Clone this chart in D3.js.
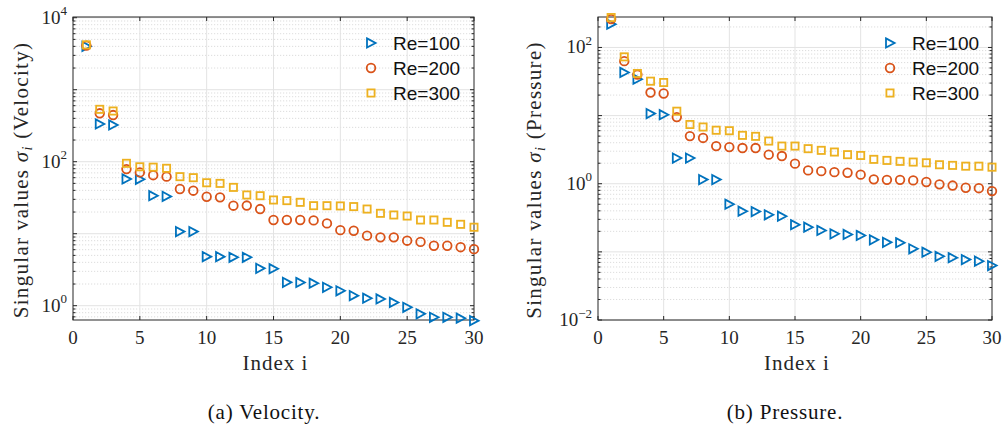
<!DOCTYPE html>
<html><head><meta charset="utf-8">
<script src="https://cdn.jsdelivr.net/npm/d3@7"></script>
<style>
html,body{margin:0;padding:0;background:#fff;}
svg{display:block;}
</style></head>
<body>
<svg id="c" width="1006" height="431"></svg>
<script>
const idx = d3.range(1, 31);
const seriesNames = ["Re=100", "Re=200", "Re=300"];
// Velocity singular values
const velRe100 = [4000,334,324,57.5,57,33.7,33,10.7,10.7,4.8,4.8,4.7,4.7,3.3,3.26,2.11,2.1,2.05,1.8,1.61,1.38,1.27,1.24,1.11,0.95,0.77,0.69,0.69,0.67,0.62];
const velRe200 = [4100,470,445,79,71,65,62,41.8,39.6,32.6,32,24.5,24.6,22,15.5,15.5,15.5,15.3,13.9,11.2,11.0,9.4,8.9,8.9,8.0,7.7,6.8,6.8,6.5,6.1];
const velRe300 = [4200,534,506,95,85,84,81,62,60,51,50,44,34.5,33.7,29.4,28.8,27.3,24.5,24.5,24.3,23.8,22,19.2,18.2,17.6,15.5,15.5,14.4,13.5,12.3];
// Pressure singular values
const preRe100 = [220,43,34.2,10.7,10.3,2.38,2.38,1.15,1.15,0.50,0.395,0.39,0.35,0.334,0.25,0.23,0.206,0.184,0.18,0.174,0.15,0.138,0.136,0.111,0.0987,0.086,0.082,0.077,0.073,0.063];
const preRe200 = [261,63,40,21.8,21.1,9.5,5.0,4.7,3.57,3.45,3.34,3.34,2.67,2.55,1.97,1.57,1.53,1.48,1.45,1.36,1.16,1.14,1.14,1.12,1.06,0.98,0.94,0.873,0.86,0.78];
const preRe300 = [275,72.8,41.5,32,30.6,11.6,7.4,6.8,6.1,6.0,5.13,4.96,4.23,3.57,3.57,3.27,3.09,2.92,2.67,2.6,2.28,2.2,2.13,2.08,2.03,1.9,1.86,1.81,1.81,1.75];
const xTicks = [0,5,10,15,20,25,30];
const yTicksVel = [0,2,4];   // exponents
const yTicksPre = [-2,0,2];

const colors = ["#0072BD", "#D95319", "#EDB120"];
const svg = d3.select("#c");
const serif = "'Liberation Serif','DejaVu Serif',serif";
const sans = "'Liberation Sans',Arial,sans-serif";

function panel(cfg) {
  const x = d3.scaleLinear().domain([0, 30]).range([cfg.x0, cfg.x1]);
  const y = d3.scaleLog().domain(cfg.ydom).range([cfg.yb, cfg.yt]);
  const g = svg.append("g");
  const [lo, hi] = cfg.ydom;
  const eLo = Math.floor(Math.log10(lo)), eHi = Math.ceil(Math.log10(hi));
  const minors = [], majors = [];
  for (let e = eLo; e <= eHi; e++) {
    for (let k = 1; k <= 9; k++) {
      const v = k * Math.pow(10, e);
      if (v < lo * 0.9999 || v > hi * 1.0001) continue;
      if (k === 1) majors.push(v); else minors.push(v);
    }
  }
  // grid
  g.selectAll(".gm").data(minors).join("line")
    .attr("x1", cfg.x0).attr("x2", cfg.x1).attr("y1", d => y(d)).attr("y2", d => y(d))
    .attr("stroke", "#d4d4d4").attr("stroke-width", 0.8).attr("stroke-dasharray", "1.2,1.8");
  g.selectAll(".gM").data(majors).join("line")
    .attr("x1", cfg.x0).attr("x2", cfg.x1).attr("y1", d => y(d)).attr("y2", d => y(d))
    .attr("stroke", "#e3e3e3").attr("stroke-width", 1);
  g.selectAll(".gx").data(xTicks.filter(t => t > 0 && t < 30)).join("line")
    .attr("x1", d => x(d)).attr("x2", d => x(d)).attr("y1", cfg.yt).attr("y2", cfg.yb)
    .attr("stroke", "#e3e3e3").attr("stroke-width", 1);
  // ticks (inward) on all sides
  const tc = "#262626";
  g.selectAll(".tx").data(xTicks).join("line")
    .attr("x1", d => x(d)).attr("x2", d => x(d)).attr("y1", cfg.yb).attr("y2", cfg.yb - 4)
    .attr("stroke", tc);
  g.selectAll(".tx2").data(xTicks).join("line")
    .attr("x1", d => x(d)).attr("x2", d => x(d)).attr("y1", cfg.yt).attr("y2", cfg.yt + 4)
    .attr("stroke", tc);
  [[cfg.x0, 1], [cfg.x1, -1]].forEach(([xx, dir]) => {
    g.selectAll(null).data(majors).join("line")
      .attr("x1", xx).attr("x2", xx + dir * 4).attr("y1", d => y(d)).attr("y2", d => y(d)).attr("stroke", tc);
    g.selectAll(null).data(minors).join("line")
      .attr("x1", xx).attr("x2", xx + dir * 2.5).attr("y1", d => y(d)).attr("y2", d => y(d)).attr("stroke", tc);
  });
  // box
  g.append("rect").attr("x", cfg.x0).attr("y", cfg.yt).attr("width", cfg.x1 - cfg.x0).attr("height", cfg.yb - cfg.yt)
    .attr("fill", "none").attr("stroke", tc).attr("stroke-width", 1);
  // x tick labels
  g.selectAll(".xl").data(xTicks).join("text")
    .attr("x", d => x(d)).attr("y", cfg.yb + 24).attr("text-anchor", "middle")
    .attr("font-family", serif).attr("font-size", 19).attr("fill", "#262626").text(d => d);
  // y tick labels
  const yl = g.selectAll(".yl").data(cfg.yTicks).join("text")
    .attr("x", cfg.x0 - 6).attr("y", d => y(Math.pow(10, d)) + 6).attr("text-anchor", "end")
    .attr("font-family", serif).attr("font-size", 19).attr("fill", "#262626");
  yl.append("tspan").text("10");
  yl.append("tspan").attr("dy", -8.5).attr("font-size", 13).text(d => d < 0 ? "\u2212" + (-d) : d);
  // axis labels
  g.append("text").attr("x", (cfg.x0 + cfg.x1) / 2 + 2).attr("y", cfg.yb + 50).attr("text-anchor", "middle")
    .attr("font-family", serif).attr("font-size", 21).attr("letter-spacing", 1).attr("fill", "#262626").text("Index i");
  const ylab = g.append("text")
    .attr("transform", `translate(${cfg.ylx},180) rotate(-90)`)
    .attr("text-anchor", "middle").attr("font-family", serif).attr("font-size", 21)
    .attr("letter-spacing", 1.3).attr("fill", "#262626");
  ylab.append("tspan").text("Singular values ");
  ylab.append("tspan").attr("font-style", "italic").text("\u03C3");
  ylab.append("tspan").attr("font-style", "italic").attr("font-size", 14).attr("dy", 4).text("i");
  ylab.append("tspan").attr("dy", -4).text(" (" + cfg.name + ")");
  // caption
  g.append("text").attr("x", cfg.capX).attr("y", 419).attr("text-anchor", "middle")
    .attr("font-family", serif).attr("font-size", 21).attr("letter-spacing", 0.8).attr("fill", "#111").text(cfg.caption);

  // markers
  const tri = "M-4,-4.6L4.6,0L-4,4.6Z";
  const drawMarker = (sel, s) => {
    if (s === 0) {
      sel.append("path").attr("d", tri);
    } else if (s === 1) {
      sel.append("circle").attr("r", 4.3);
    } else {
      sel.append("rect").attr("x", -3.6).attr("y", -3.6).attr("width", 7.2).attr("height", 7.2);
    }
    sel.attr("fill", "none").attr("stroke", colors[s]).attr("stroke-width", 1.8);
  };
  cfg.series.forEach((vals, s) => {
    g.selectAll(null).data(vals).join("g")
      .attr("transform", (d, i) => `translate(${x(idx[i])},${y(d)})`)
      .each(function () { drawMarker(d3.select(this), s); });
  });
  // legend
  seriesNames.forEach((nm, s) => {
    const ly = 43 + s * 25;
    const m = g.append("g").attr("transform", `translate(${cfg.legX},${ly})`);
    drawMarker(m, s);
    g.append("text").attr("x", cfg.legX + 22).attr("y", ly + 7)
      .attr("font-family", sans).attr("font-size", 19).attr("fill", "#111").text(nm);
  });
}

panel({x0: 73, x1: 474, yt: 17, yb: 320, ydom: [0.633, 10233], yTicks: yTicksVel,
  series: [velRe100, velRe200, velRe300], name: "Velocity", caption: "(a) Velocity.",
  ylx: 28, legX: 371, capX: 264});
panel({x0: 598, x1: 992, yt: 17, yb: 320, ydom: [0.01, 280], yTicks: yTicksPre,
  series: [preRe100, preRe200, preRe300], name: "Pressure", caption: "(b) Pressure.",
  ylx: 541, legX: 890, capX: 785});
</script>
</body></html>
